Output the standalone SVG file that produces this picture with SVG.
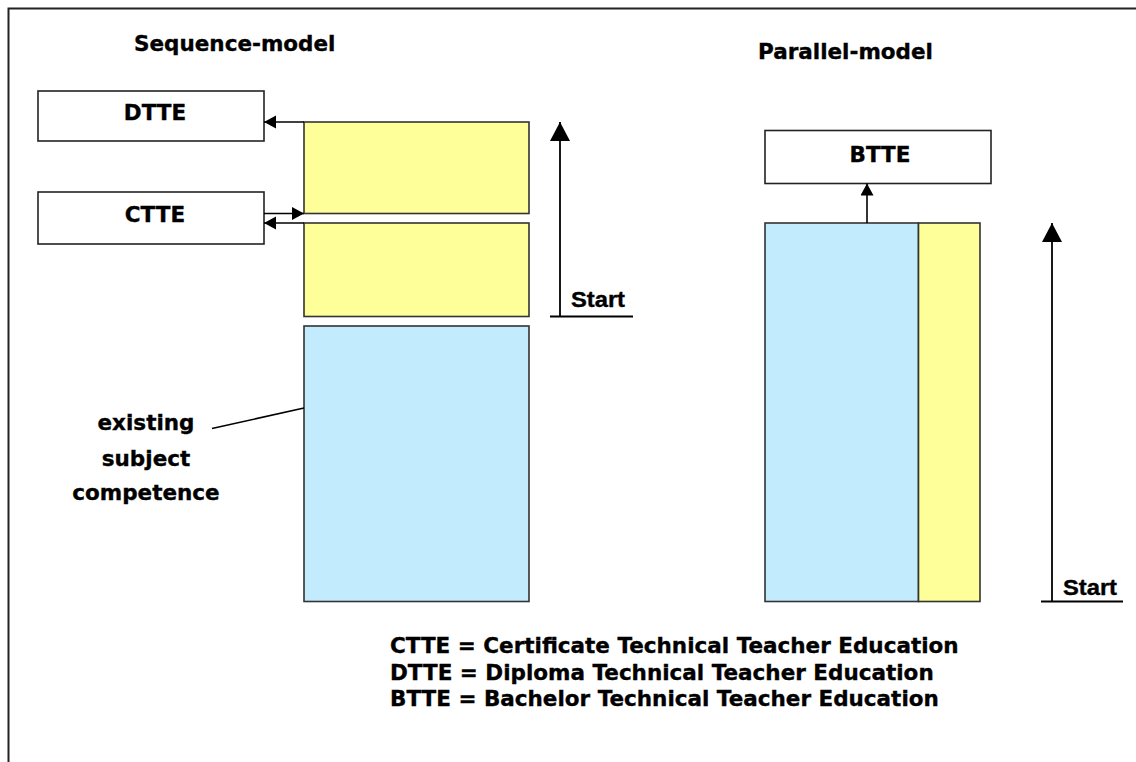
<svg xmlns="http://www.w3.org/2000/svg" width="1136" height="762" viewBox="0 0 1136 762">
  <defs>
    <style>
      .lbl { font-family: "DejaVu Sans", Verdana, sans-serif; font-weight: bold; font-size: 21.5px; fill: #000; stroke: #000; stroke-width: 0.35px; }
      .start { font-family: "Liberation Sans", Arial, sans-serif; font-weight: bold; font-size: 21.5px; fill: #000; stroke: #000; stroke-width: 0.4px; }
      .box { fill: #fff; stroke: #222; stroke-width: 1.6; }
      .yellow { fill: #FFFF99; stroke: #333; stroke-width: 1.6; }
      .blue { fill: #C2EBFD; stroke: #333; stroke-width: 1.6; }
      .conn { stroke: #000; stroke-width: 1.6; fill: none; }
      .axis { stroke: #000; stroke-width: 1.8; fill: none; }
    </style>
    <marker id="head" markerUnits="userSpaceOnUse" markerWidth="13" markerHeight="14" refX="12" refY="6.5" orient="auto">
      <path d="M0,0 L12,6.5 L0,13 Z" fill="#000"/>
    </marker>
    <marker id="bighead" markerUnits="userSpaceOnUse" markerWidth="21" markerHeight="21" refX="19" refY="10" orient="auto">
      <path d="M0,0 L19,10 L0,20 Z" fill="#000"/>
    </marker>
  </defs>

  <rect x="0" y="0" width="1136" height="762" fill="#fff"/>

  <!-- outer frame: top and left edges -->
  <path d="M1136,8.5 H8.5 V762" fill="none" stroke="#222" stroke-width="2"/>

  <!-- titles -->
  <text class="lbl" x="134" y="51">Sequence-model</text>
  <text class="lbl" x="758" y="59">Parallel-model</text>

  <!-- sequence model -->
  <g id="dtte">
    <rect class="box" x="38" y="91" width="226" height="50"/>
    <text class="lbl" x="155" y="120" text-anchor="middle">DTTE</text>
  </g>
  <g id="ctte">
    <rect class="box" x="38" y="192" width="226" height="52"/>
    <text class="lbl" x="155" y="222" text-anchor="middle">CTTE</text>
  </g>
  <g id="seq-stage2">
    <rect class="yellow" x="304" y="122" width="225" height="91.5"/>
  </g>
  <g id="seq-stage1">
    <rect class="yellow" x="304" y="223" width="225" height="93.5"/>
  </g>
  <g id="seq-subject">
    <rect class="blue" x="304" y="326" width="225" height="275.5"/>
  </g>
  <g id="subject-label">
    <text class="lbl" x="146" y="430" text-anchor="middle">existing</text>
    <text class="lbl" x="146" y="465.5" text-anchor="middle">subject</text>
    <text class="lbl" x="146" y="500" text-anchor="middle">competence</text>
  </g>
  <g id="seq-start">
    <line class="axis" x1="550" y1="316.5" x2="633" y2="316.5"/>
    <text class="start" x="571" y="307" textLength="54" lengthAdjust="spacingAndGlyphs">Start</text>
  </g>

  <!-- parallel model -->
  <g id="btte">
    <rect class="box" x="765" y="130.5" width="226" height="53"/>
    <text class="lbl" x="880" y="162" text-anchor="middle">BTTE</text>
  </g>
  <g id="par-subject">
    <rect class="blue" x="765" y="223" width="153.5" height="378.5"/>
  </g>
  <g id="par-teacher">
    <rect class="yellow" x="918.5" y="223" width="61.5" height="378.5"/>
  </g>
  <g id="par-start">
    <line class="axis" x1="1041" y1="601.5" x2="1123" y2="601.5"/>
    <text class="start" x="1063" y="594.5" textLength="54" lengthAdjust="spacingAndGlyphs">Start</text>
  </g>

  <!-- legend -->
  <g id="legend">
    <text class="lbl" x="390" y="653">CTTE = Certificate Technical Teacher Education</text>
    <text class="lbl" x="390" y="679.5">DTTE = Diploma Technical Teacher Education</text>
    <text class="lbl" x="390" y="706">BTTE = Bachelor Technical Teacher Education</text>
  </g>

  <!-- connectors -->
  <g id="connectors">
    <line class="conn" x1="304" y1="122" x2="264" y2="122" marker-end="url(#head)"/>
    <line class="conn" x1="264" y1="213.5" x2="304" y2="213.5" marker-end="url(#head)"/>
    <line class="conn" x1="304" y1="223" x2="264" y2="223" marker-end="url(#head)"/>
    <line class="conn" x1="212" y1="428.5" x2="304" y2="408"/>
    <line class="axis" x1="560" y1="316.5" x2="560" y2="122" marker-end="url(#bighead)"/>
    <line class="conn" x1="867" y1="223" x2="867" y2="183.5" marker-end="url(#head)"/>
    <line class="axis" x1="1052" y1="601.5" x2="1052" y2="223" marker-end="url(#bighead)"/>
  </g>
</svg>
